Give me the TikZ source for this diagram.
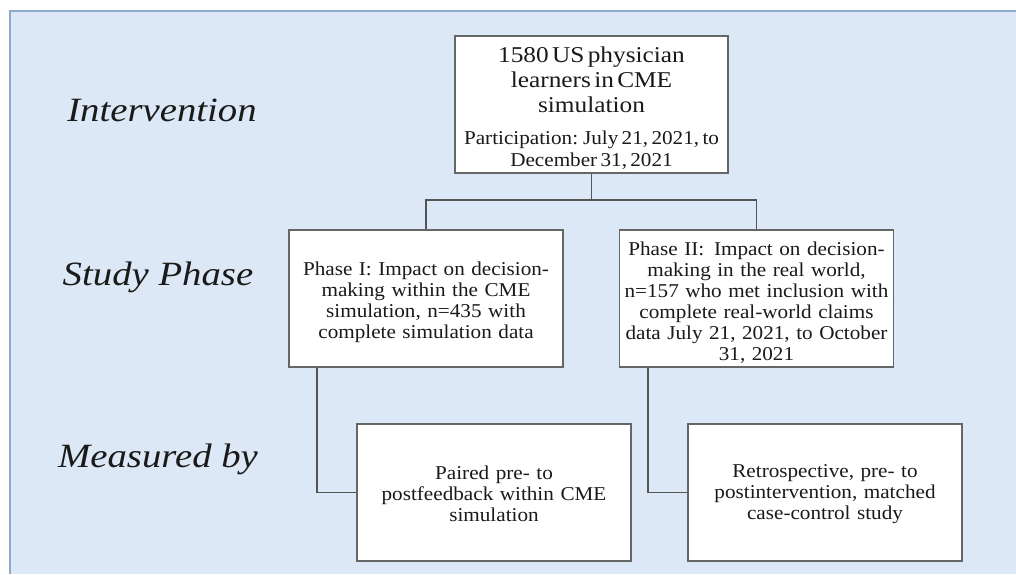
\documentclass[tikz,border=0pt]{standalone}
\usepackage{fontspec}
\setmainfont{Liberation Serif}
\newfontfamily\boxfont[FakeStretch=1.08]{Liberation Serif}
\newfontfamily\titlefont[FakeStretch=1.12]{Liberation Serif}
\newfontfamily\lblfont[FakeStretch=1.14]{Liberation Serif}
\definecolor{bgc}{HTML}{DCE8F5}
\definecolor{bordc}{HTML}{8DAACB}
\definecolor{linec}{HTML}{555555}
\definecolor{boxc}{HTML}{666666}
\definecolor{txtc}{HTML}{1A1A1A}
\begin{document}
\begin{tikzpicture}[x=1pt,y=-1pt,
  box/.style={draw=boxc, line width=1.3pt, fill=white, text=txtc, inner sep=2pt,
    align=center, minimum height=137pt},
  phasebox/.style={box, minimum width=274pt, text width=268pt,
    font=\boxfont\fontsize{19.6}{21}\selectfont},
  lbl/.style={text=txtc, font=\lblfont\itshape\fontsize{34}{40}\selectfont},
  conn/.style={draw=linec, line width=1.3pt}
]
\useasboundingbox (0,0) rectangle (1016,574);
\fill[bgc] (10,11) rectangle (1016,574);
\draw[bordc, line width=1.2pt] (10,574) -- (10,11) -- (1016,11);

\node[lbl] (lint) at (162,110) {Intervention};
\node[lbl] (lstudy) at (158,277) {Study Phase};
\node[lbl] (lmeas) at (158,459) {Measured by};

\coordinate (split) at (591.5,200);
\coordinate (p1anchor) at (317,367);
\coordinate (p2anchor) at (648,367);
\coordinate (m1anchor) at (357,492.5);
\coordinate (m2anchor) at (688,492.5);
\draw[conn] (591.5,173) -- (split);
\draw[conn] (426,230) |- (split) -| (756.5,230);
\draw[conn] (p1anchor) |- (m1anchor);
\draw[conn] (p2anchor) |- (m2anchor);

\node[box, minimum width=273pt, text width=267pt] (top) at (591.5,104.5)
  {{\titlefont\fontsize{22.6}{25}\selectfont\rule{0pt}{23pt}1580 US physician\\ learners in CME\\ simulation\par}
   \vspace{11pt}
   {\boxfont\fontsize{19.6}{21.5}\selectfont Participation: July 21, 2021, to\\ December 31, 2021\par}};

\node[phasebox] (p1) at (426,298.5)
  {\rule{0pt}{22pt}Phase I: Impact on decision-\\ making within the CME\\ simulation, n=435 with\\ complete simulation data};
\node[phasebox] (p2) at (756.5,298.5)
  {\rule{0pt}{22pt}Phase II:\, Impact on decision-\\ making in the real world,\\ n=157 who met inclusion with\\ complete real-world claims\\ data July 21, 2021, to October\\ 31, 2021};

\node[phasebox] (m1) at (494,492.5)
  {\rule{0pt}{17pt}Paired pre- to\\ postfeedback within CME\\ simulation};
\node[phasebox] (m2) at (825,492.5)
  {\rule{0pt}{17pt}Retrospective, pre- to\\ postintervention, matched\\ case-control study};
\end{tikzpicture}
\end{document}
